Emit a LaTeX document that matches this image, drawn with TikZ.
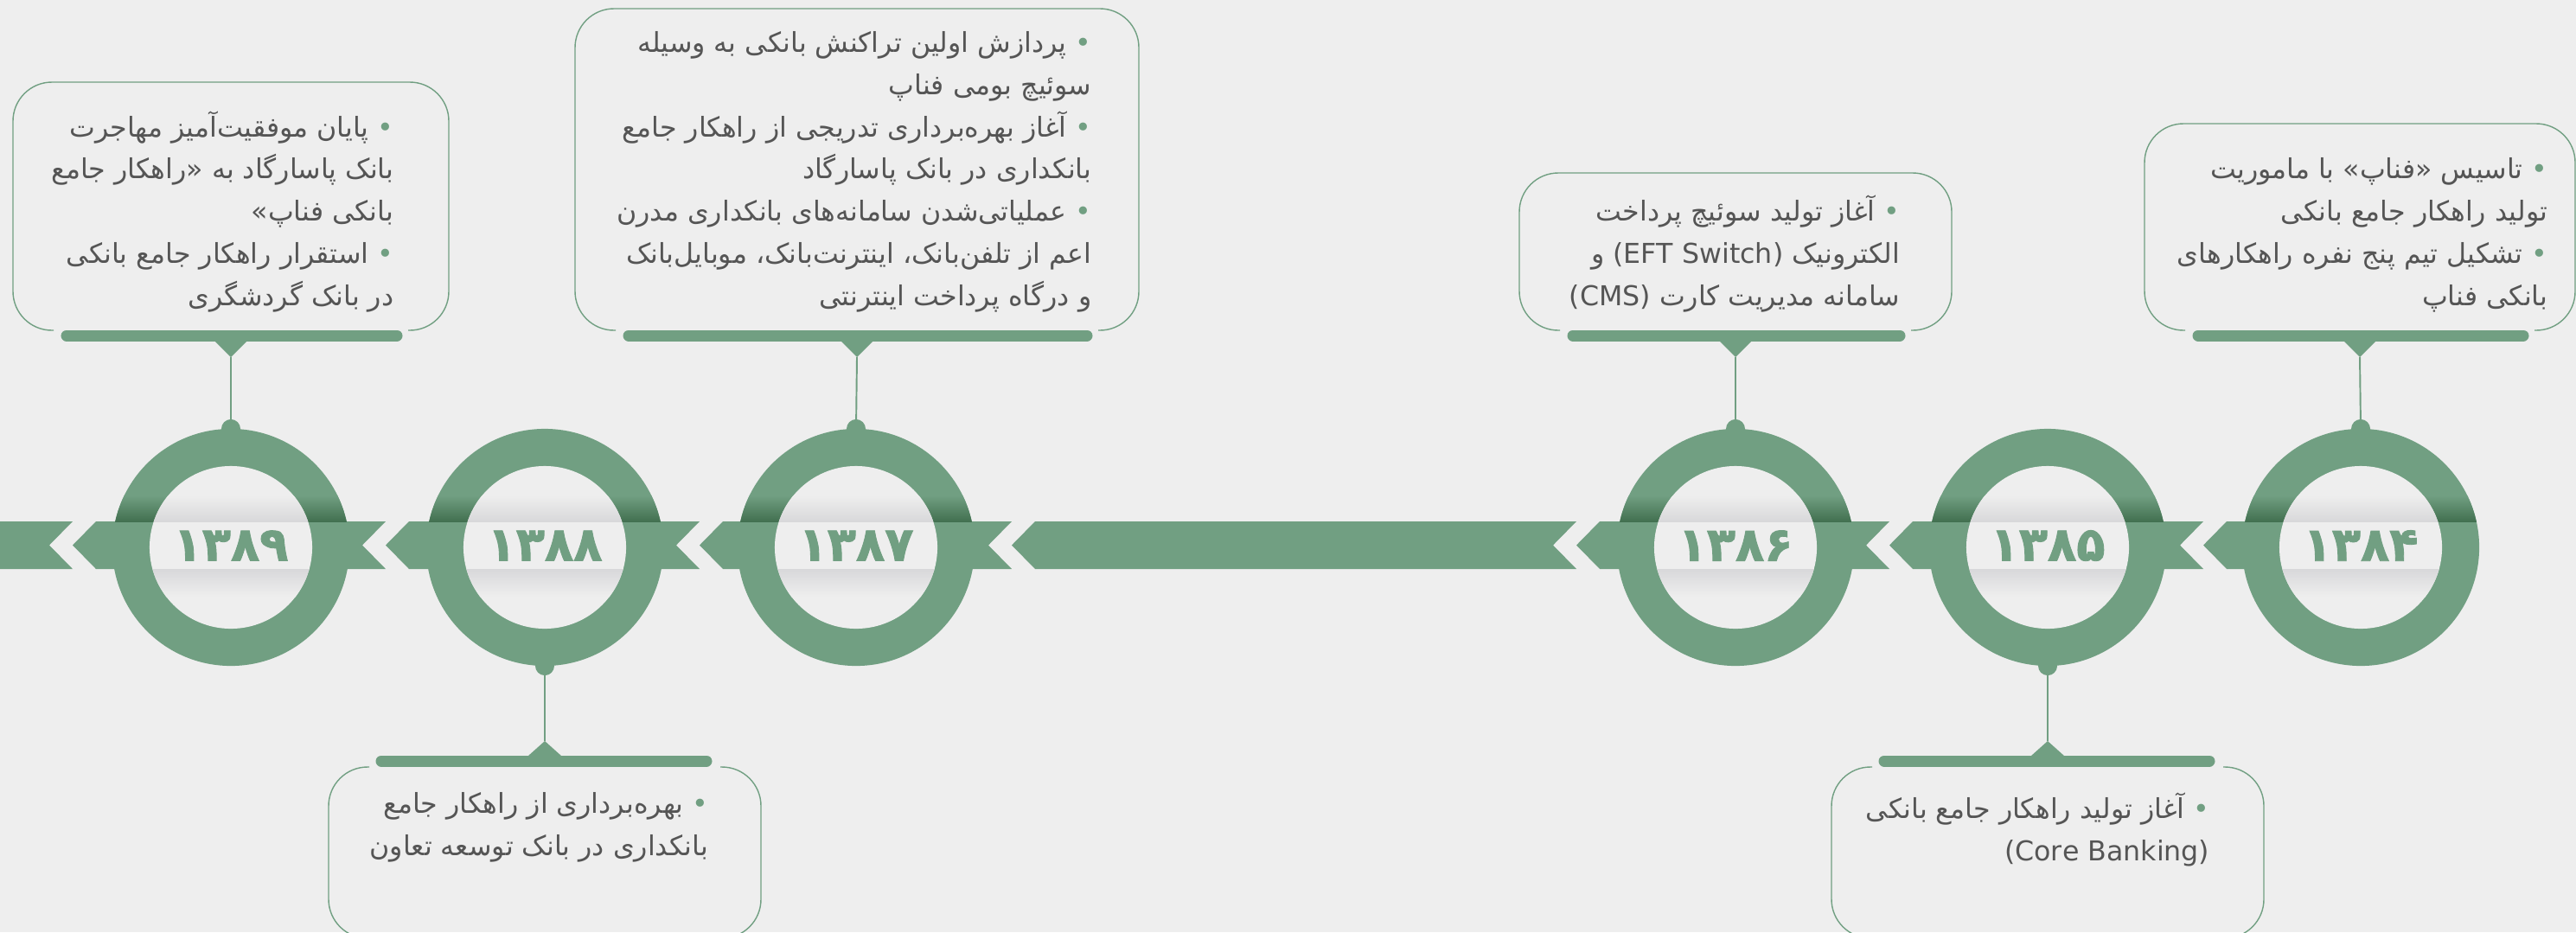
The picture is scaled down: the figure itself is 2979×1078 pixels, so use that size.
\documentclass[tikz,border=0pt]{standalone}
\usepackage{fontspec}
\newfontfamily\fa[Script=Arabic]{DejaVu Sans}
\newfontfamily\fayear[Script=Arabic,BoldFeatures={FakeBold=1.6}]{DejaVu Sans}
\TeXXeTstate=1
\usetikzlibrary{positioning}
\definecolor{finap}{RGB}{113,159,130}
\definecolor{finapdark}{RGB}{66,112,80}
\definecolor{paper}{RGB}{238,238,238}
\definecolor{fold}{RGB}{216,216,218}
\definecolor{ink}{RGB}{85,85,85}
\newcommand\rl[1]{\beginR #1\endR}
\newcommand\lr[1]{\beginL #1\endL}
\newcommand\pnt[1]{\rl{#1}\ {\color{finap}\textbullet}}
\tikzset{
    ribbon/.style={fill=finap},
    ring/.style={circle,fill=finap,minimum size=2.74cm,inner sep=0pt,outer sep=0pt},
    disc/.style={circle,fill=paper,minimum size=1.88cm,inner sep=0pt,outer sep=0pt},
    yearlabel/.style={font=\fayear\bfseries\fontsize{15.5}{15.5}\selectfont,text=finap,inner sep=0pt},
    knob/.style={circle,fill=finap,minimum size=0.22cm,inner sep=0pt,outer sep=0pt},
    stem/.style={draw=finap,line width=0.55pt},
    bar/.style={draw=finap,line width=0.13cm,line cap=round},
    boxline/.style={draw=finap,line width=0.4pt,rounded corners=0.45cm},
    event/.style={font=\fa\fontsize{9}{13.9}\selectfont,text=ink,align=right,inner sep=0pt}
}
\def\Ribbon{
    \foreach \tipx/\cutx in {-60/84,84/446,446/809,809/1170,1170/1823,1823/2185,2185/2548,2548/2730}
        \fill[ribbon] (\tipx,630.5) -- (\tipx+27,603) -- (\cutx,603) -- (\cutx-27,630.5) -- (\cutx,658) -- (\tipx+27,658) -- cycle;
}
\newcommand\Ring[3]{
    \node[ring] (ring#1) at (#2,633) {};
    \begin{scope}
        \clip (#2,633) circle (1.37cm);
        \shade[top color=finap,bottom color=finapdark] (#2-140,573) rectangle (#2+140,603);
    \end{scope}
    \node[disc] (disc#1) at (#2,633) {};
    \begin{scope}
        \clip (#2,633) circle (0.94cm);
        \shade[top color=paper,bottom color=fold] (#2-100,573) rectangle (#2+100,603);
        \shade[top color=fold,bottom color=paper] (#2-100,658) rectangle (#2+100,690);
    \end{scope}
    \node[yearlabel] (year#1) at (#2,631) {#3};
}
\begin{document}
\begin{tikzpicture}[x=0.01cm,y=-0.01cm]
    \fill[paper] (0,0) rectangle (2979,1078);
    \useasboundingbox (0,0) rectangle (2979,1078);
    \clip (0,0) rectangle (2979,1078);
    \Ribbon
    \foreach \yn/\cx/\yr in {1389/267/۱۳۸۹,1388/630/۱۳۸۸,1387/990/۱۳۸۷,1386/2007/۱۳۸۶,1385/2368/۱۳۸۵,1384/2730/۱۳۸۴}
        {\Ring{\yn}{\cx}{\yr}}
    \foreach \yn/\bl/\br/\bt in {1389/15/519/95,1387/665/1317/10,1386/1757/2257/200,1384/2480/2978/143}{
        \draw[boxline] (\bl+47,382) -- (\bl,382) -- (\bl,\bt) -- (\br,\bt) -- (\br,382) -- (\br-47,382);
        \draw[bar] (\bl+62,388) -- (\br-60,388);
        \coordinate (tip\yn) at ({(\bl+\br)/2},413);
        \fill[finap] ({(\bl+\br)/2-19},394) -- ({(\bl+\br)/2+19},394) -- (tip\yn) -- cycle;
        \node[knob] (knob\yn) at (ring\yn.north) {};
        \draw[stem] (tip\yn) -- (knob\yn.center);
    }
    \foreach \yn/\bl/\br in {1388/380/880,1385/2118/2618}{
        \draw[boxline] (\bl+47,887) -- (\bl,887) -- (\bl,1085) -- (\br,1085) -- (\br,887) -- (\br-47,887);
        \draw[bar] (\bl+61,880) -- (\br-63,880);
        \coordinate (tip\yn) at ({(\bl+\br)/2},857);
        \fill[finap] ({(\bl+\br)/2-19},874) -- ({(\bl+\br)/2+19},874) -- (tip\yn) -- cycle;
        \node[knob] (knob\yn) at (ring\yn.south) {};
        \draw[stem] (tip\yn) -- (knob\yn.center);
    }
    \node[event,anchor=south east] (event1389) at (456,362) {\pnt{پایان موفقیت^^^^200cآمیز مهاجرت}\\ \rl{بانک پاسارگاد به «راهکار جامع}\\ \rl{بانکی فناپ»}\\ \pnt{استقرار راهکار جامع بانکی}\\ \rl{در بانک گردشگری}};
    \node[event,anchor=south east] (event1387) at (1263,362) {\pnt{پردازش اولین تراکنش بانکی به وسیله}\\ \rl{سوئیچ بومی فناپ}\\ \pnt{آغاز بهره^^^^200cبرداری تدریجی از راهکار جامع}\\ \rl{بانکداری در بانک پاسارگاد}\\ \pnt{عملیاتی^^^^200cشدن سامانه^^^^200cهای بانکداری مدرن}\\ \rl{اعم از تلفن^^^^200cبانک، اینترنت^^^^200cبانک، موبایل^^^^200cبانک}\\ \rl{و درگاه پرداخت اینترنتی}};
    \node[event,anchor=south east] (event1386) at (2198,362) {\pnt{آغاز تولید سوئیچ پرداخت}\\ \rl{الکترونیک \lr{(EFT Switch)} و}\\ \rl{سامانه مدیریت کارت \lr{(CMS)}}};
    \node[event,anchor=south east] (event1384) at (2947,362) {\pnt{تاسیس «فناپ» با ماموریت}\\ \rl{تولید راهکار جامع بانکی}\\ \pnt{تشکیل تیم پنج نفره راهکارهای}\\ \rl{بانکی فناپ}};
    \node[event,anchor=north east] (event1388) at (820,916) {\pnt{بهره^^^^200cبرداری از راهکار جامع}\\ \rl{بانکداری در بانک توسعه تعاون}};
    \node[event,anchor=north east] (event1385) at (2556,916) {\pnt{آغاز تولید راهکار جامع بانکی}\\ (Core Banking)};
\end{tikzpicture}
\end{document}
